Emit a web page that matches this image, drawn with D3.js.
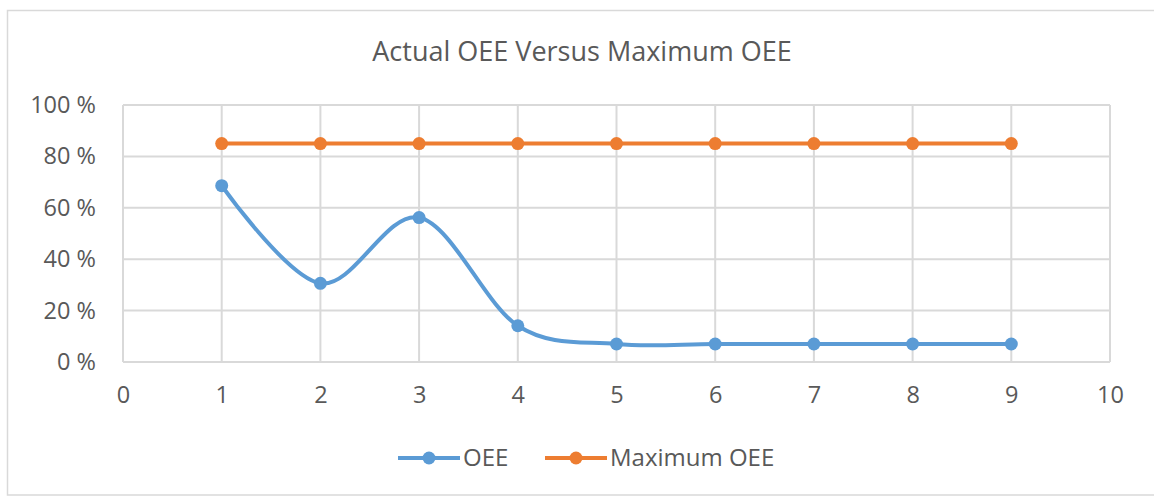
<!DOCTYPE html>
<html><head><meta charset="utf-8">
<script src="https://cdn.jsdelivr.net/npm/d3@7"></script>
<style>body{margin:0;background:#fff;}svg{display:block;}text{font-family:"Open Sans",sans-serif;fill:#595959;}</style>
</head><body>
<svg id="c" width="1154" height="496"></svg>
<script>
const title = "Actual OEE Versus Maximum OEE";
const xValues = [1,2,3,4,5,6,7,8,9];
const oee = [0.686, 0.306, 0.562, 0.141, 0.07, 0.07, 0.07, 0.07, 0.07];
const maxOee = [0.85, 0.85, 0.85, 0.85, 0.85, 0.85, 0.85, 0.85, 0.85];
const xTicks = [0,1,2,3,4,5,6,7,8,9,10];
const yTicks = [0,0.2,0.4,0.6,0.8,1.0];
const seriesNames = ["OEE", "Maximum OEE"];
const colors = ["#5b9bd5", "#ed7d31"];

const svg = d3.select("#c");
svg.append("rect").attr("x",7.5).attr("y",10.5).attr("width",1160).attr("height",484.5)
  .attr("fill","#fff").attr("stroke","#d9d9d9").attr("stroke-width",1.5);

const x = d3.scaleLinear().domain([0,10]).range([123,1110]);
const y = d3.scaleLinear().domain([0,1]).range([362,105]);

// grid
svg.append("g").selectAll("line").data(yTicks).join("line")
  .attr("x1",x(0)).attr("x2",x(10)).attr("y1",d=>y(d)).attr("y2",d=>y(d))
  .attr("stroke","#d9d9d9").attr("stroke-width",2);
svg.append("g").selectAll("line").data(xTicks).join("line")
  .attr("y1",y(0)).attr("y2",y(1)).attr("x1",d=>x(d)).attr("x2",d=>x(d))
  .attr("stroke","#d9d9d9").attr("stroke-width",2);

// axes labels
const yAxis = d3.axisLeft(y).tickValues(yTicks).tickSize(0).tickPadding(27)
  .tickFormat(d=>Math.round(d*100)+" %");
const gy = svg.append("g").attr("transform",`translate(${x(0)},0)`).call(yAxis);
gy.select(".domain").remove();
gy.selectAll("text").style("font-size","23.5px").style("font-family","'Open Sans',sans-serif").attr("fill","#595959");

const xAxis = d3.axisBottom(x).tickValues(xTicks).tickSize(0).tickPadding(24).tickFormat(d3.format("d"));
const gx = svg.append("g").attr("transform",`translate(0,${y(0)})`).call(xAxis);
gx.select(".domain").remove();
gx.selectAll("text").style("font-size","23.5px").style("font-family","'Open Sans',sans-serif").attr("fill","#595959");

// title
svg.append("text").attr("x",582).attr("y",61).attr("text-anchor","middle")
  .style("font-size","27px").text(title);

// lines
const series = [oee, maxOee];
series.forEach((vals,i)=>{
  const pts = xValues.map((xv,j)=>[x(xv), y(vals[j])]);
  const line = d3.line().curve(i===0 ? d3.curveCatmullRom.alpha(0) : d3.curveLinear);
  svg.append("path").attr("d",line(pts)).attr("fill","none").attr("stroke",colors[i]).attr("stroke-width",4);
  svg.append("g").selectAll("circle").data(pts).join("circle")
    .attr("cx",d=>d[0]).attr("cy",d=>d[1]).attr("r",6.5).attr("fill",colors[i]);
});

// legend
const legendX = [398, 545];
const ly = 458;
seriesNames.forEach((n,i)=>{
  const g = svg.append("g");
  g.append("line").attr("x1",legendX[i]).attr("x2",legendX[i]+62).attr("y1",ly).attr("y2",ly)
    .attr("stroke",colors[i]).attr("stroke-width",4);
  g.append("circle").attr("cx",legendX[i]+31).attr("cy",ly).attr("r",6.5).attr("fill",colors[i]);
  g.append("text").attr("x",legendX[i]+65).attr("y",ly).attr("dy","0.35em")
    .style("font-size","24px").text(n);
});
</script>
</body></html>
